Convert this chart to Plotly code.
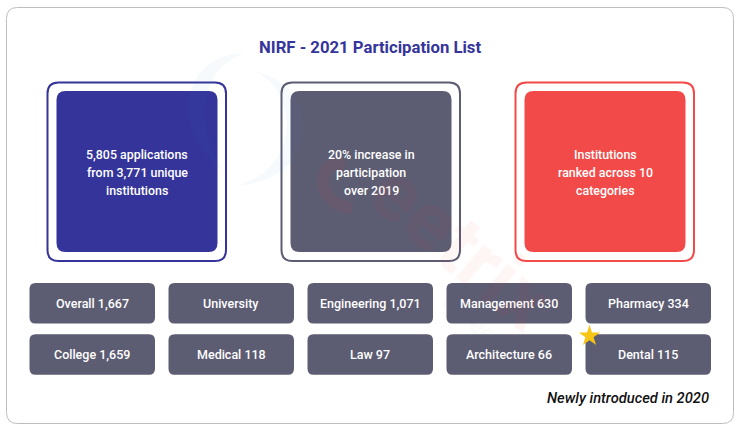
import plotly.graph_objects as go

TITLE = "NIRF - 2021 Participation List"
CARD_TEXT = [["5,805 applications", "from 3,771 unique", "institutions"],
             ["20% increase in", "participation", "over 2019"],
             ["Institutions", "ranked across 10", "categories"]]
CARD_COLORS = ["#34349a", "#5c5c72", "#f24a48"]
ROW1 = ["Overall 1,667", "University", "Engineering 1,071", "Management 630", "Pharmacy 334"]
ROW2 = ["College 1,659", "Medical 118", "Law 97", "Architecture 66", "Dental 115"]
NOTE = "Newly introduced in 2020"
WATERMARK = "eetrix"
WATERMARK_SUB = "Careers"
TILE_COLOR = "#5c5c72"
FONT = "Roboto"

def rr(x0, y0, x1, y1, r):
    return (f"M{x0+r},{y0} L{x1-r},{y0} Q{x1},{y0} {x1},{y0+r} L{x1},{y1-r} Q{x1},{y1} {x1-r},{y1} "
            f"L{x0+r},{y1} Q{x0},{y1} {x0},{y1-r} L{x0},{y0+r} Q{x0},{y0} {x0+r},{y0} Z")

shapes, ann = [], []
def rect(x0, y0, x1, y1, r, fill="rgba(0,0,0,0)", line=None, w=0):
    shapes.append(dict(type="path", path=rr(x0, y0, x1, y1, r), fillcolor=fill,
                       line=dict(color=line or "rgba(0,0,0,0)", width=w), layer="below"))
def text(x, y, s, size, color, weight=500, anchor="center", style="normal", angle=0):
    ann.append(dict(x=x, y=y, text=s, showarrow=False, xanchor=anchor, yanchor="middle", textangle=angle,
                    font=dict(family=FONT, size=size, color=color, weight=weight, style=style)))

rect(6.5, 7.5, 733.5, 423.5, 11, "#ffffff", "#bdbdbd", 1)

for i, (lines, c) in enumerate(zip(CARD_TEXT, CARD_COLORS)):
    x = 47.5 + 234 * i
    rect(x, 82.5, x + 178.5, 261, 11, "#ffffff", c, 2)
    rect(x + 9, 91, x + 170, 252, 9, c)
    for j, t in enumerate(lines):
        text(x + 89.5, 154 + 18 * j, t, 12.4, "#ffffff", 500)

for r, row in enumerate([ROW1, ROW2]):
    y = 283 + 51.3 * r
    for i, t in enumerate(row):
        x = 29.5 + 139 * i
        rect(x, y, x + 125.5, y + 40.5, 6, TILE_COLOR)
        text(x + 62.7, y + 20.5, t, 12.5, "#ffffff", 500)

text(369.5, 47.5, TITLE, 16.7, "#35359b", 700)
text(710.5, 398, NOTE, 14.7, "#111111", 500, "right", "italic")

# faint watermark laid over the cards
for p in ["M253,70 Q305,85 304,130 Q298,180 237,186 Q285,170 287,125 Q285,85 253,70 Z",
          "M187,105 Q195,55 245,53 Q210,65 205,105 Q203,135 222,170 Q190,145 187,105 Z"]:
    shapes.append(dict(type="path", path=p, fillcolor="rgba(70,130,220,0.045)",
                       line=dict(width=0), layer="above"))
shapes.append(dict(type="path", path="M345,165 Q322,160 323,185 Q328,205 352,208",
                   fillcolor="rgba(0,0,0,0)", line=dict(color="rgba(240,70,70,0.08)", width=12), layer="above"))
text(462, 246, WATERMARK, 82, "rgba(240,70,70,0.055)", 700, angle=40)
text(476, 324, WATERMARK_SUB, 24, "rgba(120,120,140,0.05)", 400, angle=40)

fig = go.Figure()
fig.add_trace(go.Scatter(x=[589.5], y=[336], mode="markers", hoverinfo="skip",
                         marker=dict(symbol="star", size=16, color="#f6c518", line=dict(width=0))))
fig.update_layout(width=740, height=431, margin=dict(l=0, r=0, t=0, b=0), showlegend=False,
                  paper_bgcolor="#ffffff", plot_bgcolor="#ffffff", shapes=shapes, annotations=ann,
                  xaxis=dict(range=[0, 740], visible=False, fixedrange=True),
                  yaxis=dict(range=[431, 0], visible=False, fixedrange=True))
fig.write_html("out.html", config=dict(displayModeBar=False),
               post_script="document.body.style.margin='0';document.body.style.overflow='hidden';")
